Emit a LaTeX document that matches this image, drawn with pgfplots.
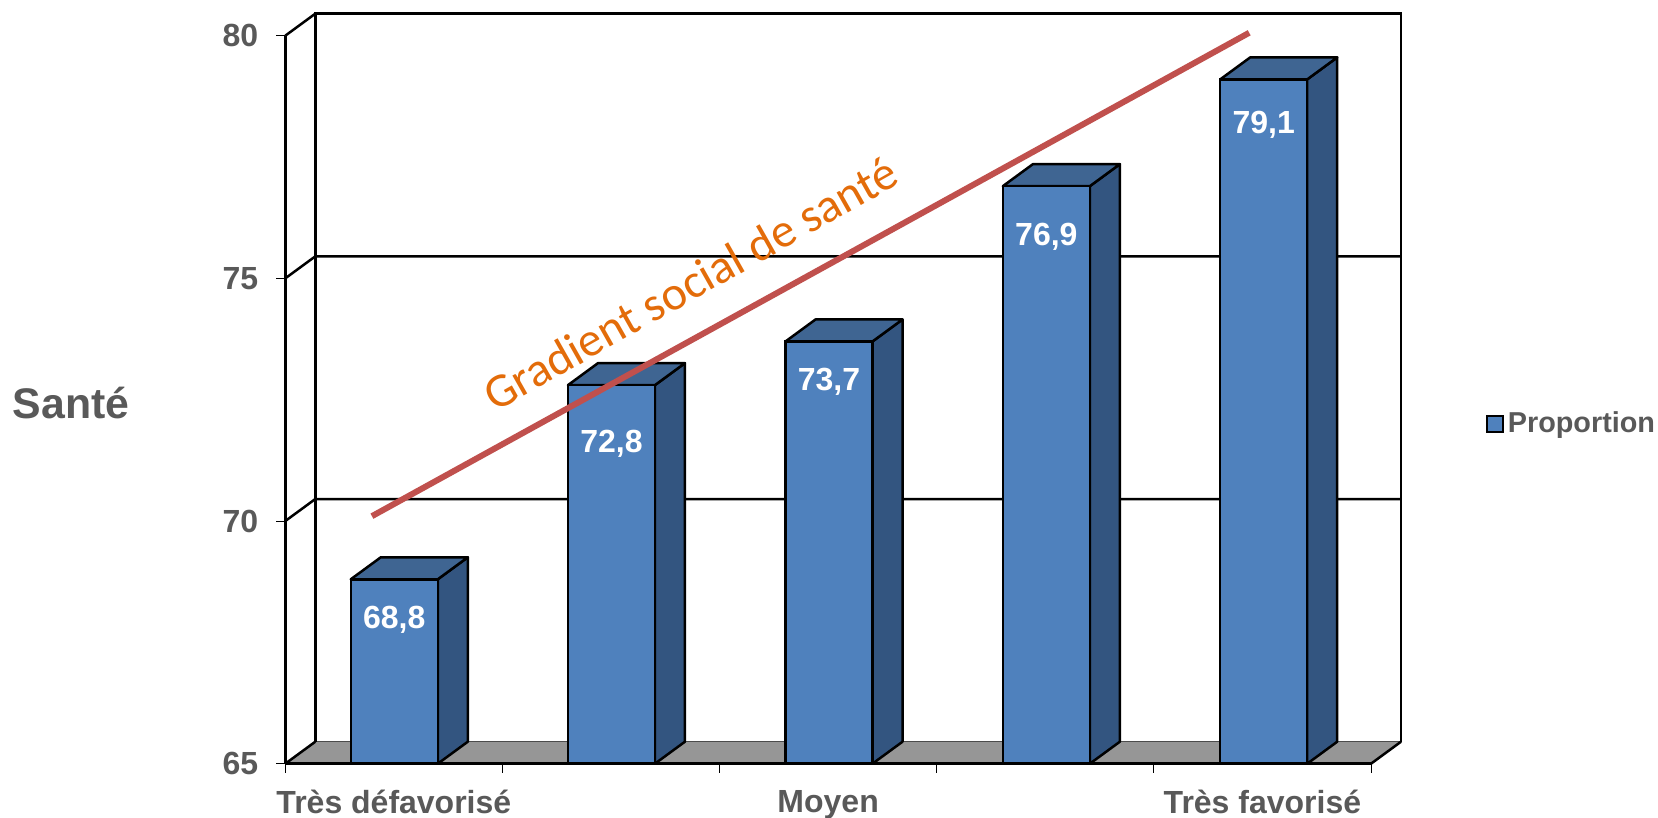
\documentclass[border=0pt]{standalone}
\usepackage{pgfplots}
\pgfplotsset{compat=1.18}
\usepackage{fontspec}
\setmainfont{Liberation Sans}
\newfontfamily\calibrilike{Carlito}
\definecolor{barfront}{HTML}{4F81BD}
\definecolor{barside}{HTML}{335580}
\definecolor{bartop}{HTML}{3F6592}
\definecolor{floorgrey}{HTML}{969696}
\definecolor{labelgrey}{HTML}{595959}
\definecolor{trendred}{HTML}{C0504D}
\definecolor{trendorange}{HTML}{E36C0A}

% depth of the pseudo-3D box, in data units
\newcommand{\dpx}{0.1382}
\newcommand{\dpy}{0.4533}
\newcommand{\halfbar}{0.2003}

% side and top faces of one column: centre, value
\newcommand{\columnfaces}[2]{%
  \pgfmathsetmacro{\xa}{#1-\halfbar}%
  \pgfmathsetmacro{\xb}{#1+\halfbar}%
  \pgfmathsetmacro{\xc}{#1+\halfbar+\dpx}%
  \pgfmathsetmacro{\xd}{#1-\halfbar+\dpx}%
  \pgfmathsetmacro{\yt}{#2+\dpy}%
  \pgfmathsetmacro{\yb}{65+\dpy}%
  \edef\facecmd{%
    \noexpand\addplot[forget plot,draw=black,line width=1.25pt,fill=barside,line join=round]
      coordinates {(\xb,#2) (\xc,\yt) (\xc,\yb) (\xb,65)} -- cycle;
    \noexpand\addplot[forget plot,draw=black,line width=1.25pt,fill=bartop,line join=round]
      coordinates {(\xa,#2) (\xd,\yt) (\xc,\yt) (\xb,#2)} -- cycle;
  }\facecmd}

% column centre, value, drop of the value label below the column top (pt)
\pgfplotstableread{
c     v     drop
0.002 68.8  20.5
1.002 72.8  29.5
2.004 73.7  20.0
3.005 76.9  25.3
4.006 79.1  22.6
}\columndata

\begin{document}
\begin{tikzpicture}[x=0.5pt,y=0.5pt]
\useasboundingbox (-285.3,-54.3) rectangle (1372.7,763.7);
\begin{axis}[
  scale only axis,
  width=542.85pt,
  height=364pt,
  at={(0,0)},
  anchor=south west,
  xmin=-0.5, xmax=4.5,
  ymin=65, ymax=80,
  clip=false,
  axis on top,
  axis x line*=bottom,
  axis y line*=left,
  axis line style={line width=1.4pt,black},
  tick align=outside,
  ytick={65,70,75,80},
  xtick={0,2,4},
  xticklabels={Très défavorisé,Moyen,Très favorisé},
  minor xtick={-0.5,0.5,1.5,2.5,3.5,4.5},
  major tick length=4.5pt,
  minor tick length=4.5pt,
  major x tick style={draw=none},
  major y tick style={line width=0.5pt,black},
  minor x tick style={line width=0.5pt,black},
  x tick label style={font=\fontsize{16}{18}\selectfont\bfseries,text=labelgrey,yshift=-5.3pt},
  y tick label style={font=\fontsize{16}{18}\selectfont\bfseries,text=labelgrey,xshift=-5.5pt},
  /pgf/number format/assume math mode=true,
  ylabel={Santé},
  ylabel style={font=\fontsize{21.4}{24}\selectfont\bfseries,text=labelgrey,rotate=-90,
    at={(axis description cs:-0.1974,0.4955)},anchor=center},
  legend style={draw=none,fill=none,at={(axis cs:5.03,72.0)},anchor=west,
    font=\fontsize{14.4}{16}\selectfont\bfseries,text=labelgrey,
    inner sep=0pt,outer sep=0pt},
  legend image code/.code={%
    \draw[fill=barfront,draw=black,line width=1.1pt] (0pt,-3.9pt) rectangle (7.8pt,3.9pt);},
]
% floor and walls
\addplot[forget plot,draw=none,fill=floorgrey] coordinates {(-0.5,65) (4.5,65) (4.6382,65.4533) (-0.3618,65.4533)} -- cycle;
\addplot[forget plot,line width=0.5pt,draw=black!70] coordinates {(-0.3618,65.4533) (4.6382,65.4533)};
\addplot[forget plot,line width=1.25pt,black] coordinates {(-0.5,65) (-0.3618,65.4533)};
\addplot[forget plot,line width=1.25pt,black] coordinates {(4.5,65) (4.6382,65.4533)};
\addplot[forget plot,line width=1.25pt,black] coordinates {(-0.3618,65.4533) (-0.3618,80.4533) (4.6382,80.4533) (4.6382,65.4533)};
% gridlines along the back wall, with their return to the left edge
\addplot[forget plot,line width=1.25pt,black] coordinates {(-0.5,70) (-0.3618,70.4533) (4.6382,70.4533)};
\addplot[forget plot,line width=1.25pt,black] coordinates {(-0.5,75) (-0.3618,75.4533) (4.6382,75.4533)};
\addplot[forget plot,line width=1.25pt,black] coordinates {(-0.5,80) (-0.3618,80.4533)};
% side and top faces of the columns
\columnfaces{0.002}{68.8}
\columnfaces{1.002}{72.8}
\columnfaces{2.004}{73.7}
\columnfaces{3.005}{76.9}
\columnfaces{4.006}{79.1}
% front faces, with their values
\addplot[ybar,bar width=43.5pt,bar shift=0pt,draw=black,line width=1.25pt,fill=barfront,
  visualization depends on={\thisrow{drop}\as\labeldrop},
  nodes near coords,
  /pgf/number format/.cd,use comma,fixed,fixed zerofill,precision=1,assume math mode=true,/pgfplots/.cd,
  nodes near coords style={font=\fontsize{16}{18}\selectfont\bfseries,text=white,anchor=center,yshift=-\labeldrop pt},
] table[x=c,y=v] {\columndata};
\addlegendentry{Proportion}
% social gradient line and its caption
\addplot[forget plot,line width=3pt,trendred] coordinates {(-0.101,70.10) (3.939,80.06)};
\node[rotate=29.5,text=trendorange,font=\fontsize{24}{28}\selectfont\calibrilike] at (axis cs:1.366,74.9) {Gradient social de santé};
\end{axis}
\end{tikzpicture}
\end{document}
